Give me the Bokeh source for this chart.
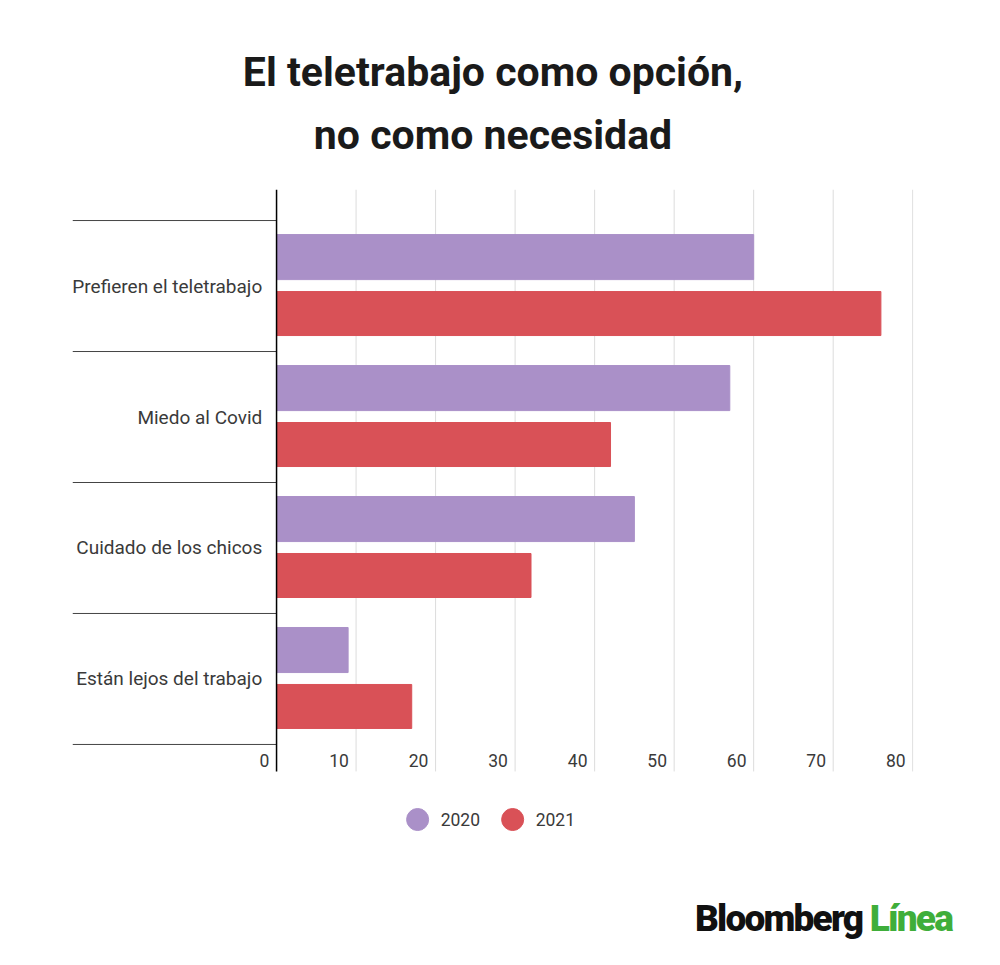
from bokeh.plotting import figure
from bokeh.models import Title, Range1d, Div, ColumnDataSource
from bokeh.layouts import column
from bokeh.core.properties import value
from bokeh.embed import file_html
from bokeh.resources import INLINE

categories = ["Prefieren el teletrabajo", "Miedo al Covid", "Cuidado de los chicos", "Están lejos del trabajo"]
v2020 = [60, 57, 45, 9]
v2021 = [76, 42, 32, 17]
ticks = [0, 10, 20, 30, 40, 50, 60, 70, 80]
series = ["2020", "2021"]

PURPLE = "#aa90c8"
RED = "#d95157"
FONT = "Roboto"
YTOP, YBOT, YAX = 4.237, -0.863, -0.206

p = figure(width=992, height=880, output_backend="svg", toolbar_location=None,
           x_range=Range1d(-25.66, 80.1), y_range=Range1d(YBOT, YTOP),
           frame_width=841, frame_height=668,
           min_border_left=72, min_border_right=79, min_border_top=189, min_border_bottom=23)
p.xaxis.visible = False
p.yaxis.visible = False
p.grid.visible = False
p.outline_line_color = None

p.segment(x0=ticks[1:], x1=ticks[1:], y0=[YAX]*8, y1=[YTOP]*8, line_color="#dcdcdc", line_width=1)
seps = [0, 1, 2, 3, 4]
p.segment(x0=[-25.66]*5, x1=[0]*5, y0=seps, y1=seps, line_color="#444444", line_width=1)

n = len(categories)
base = [n - 1 - i for i in range(n)]
src = ColumnDataSource(dict(cat=categories, v20=v2020, v21=v2021,
                            y20=[b + 0.721 for b in base], y21=[b + 0.29 for b in base],
                            ym=[b + 0.5 for b in base]))
p.hbar(y="y20", right="v20", left=0, height=0.344, source=src, color=PURPLE)
p.hbar(y="y21", right="v21", left=0, height=0.336, source=src, color=RED)

p.segment(x0=[0], x1=[0], y0=[YAX], y1=[YTOP], line_color="#000000", line_width=1.5)

p.text(x=-1.8, y="ym", text="cat", source=src, text_align="right", text_baseline="middle",
       text_font=value(FONT), text_font_size="19px", text_color="#3a3a3a")
p.text(x=[t - 0.9 for t in ticks], y=[-0.122]*len(ticks), text=[str(t) for t in ticks],
       text_align="right", text_baseline="middle", text_font=value(FONT),
       text_font_size="17.5px", text_color="#3a3a3a")

# legend drawn below the axis
leg_x = [17.74, 29.69]
p.scatter(x=leg_x, y=[-0.573]*2, marker="circle", size=22, color=[PURPLE, RED])
p.text(x=[v + 2.9 for v in leg_x], y=[-0.573]*2, text=series, text_align="left", text_baseline="middle",
       text_font=value(FONT), text_font_size="17.5px", text_color="#3a3a3a")

t2 = Title(text="no como necesidad", align="center", text_font=FONT, text_font_size="41px",
           text_font_style="bold", text_color="#1a1a1a", standoff=62)
t1 = Title(text="El teletrabajo como opción,", align="center", text_font=FONT, text_font_size="41px",
           text_font_style="bold", text_color="#1a1a1a", standoff=-37)
p.add_layout(t2, "above")
p.add_layout(t1, "above")

logo = Div(text='<div style="width:947px;text-align:right;font-family:Roboto,sans-serif;font-weight:900;'
                'font-size:37px;letter-spacing:-1.8px;color:#111;margin-top:8px;">Bloomberg '
                '<span style="color:#3fae3a;">Línea</span></div>')
open("out.html", "w").write(file_html(column(p, logo), INLINE))
